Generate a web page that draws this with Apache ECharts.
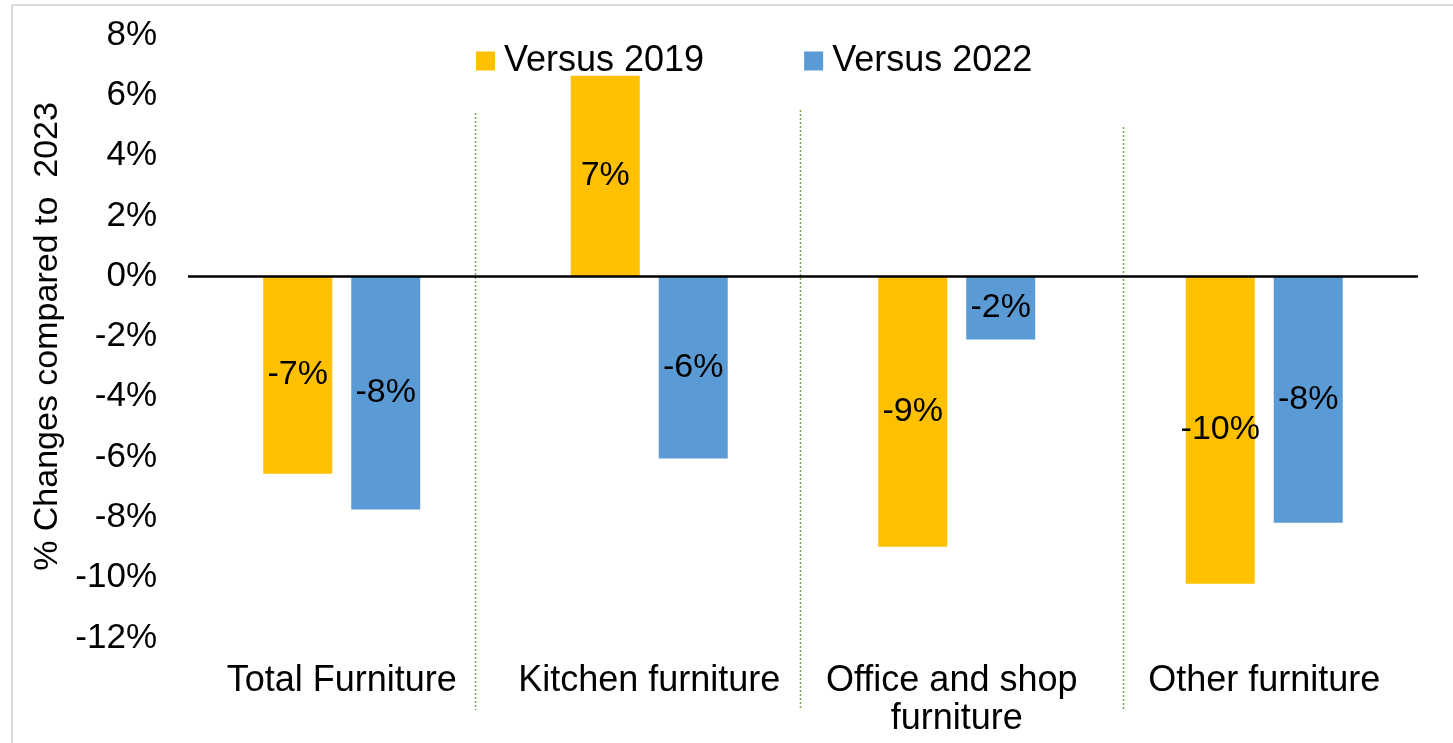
<!DOCTYPE html>
<html>
<head>
<meta charset="utf-8">
<script src="https://cdn.jsdelivr.net/npm/echarts@6/dist/echarts.min.js"></script>
<style>
html,body{margin:0;padding:0;background:#fff;}
#chart{width:1453px;height:743px;}
</style>
</head>
<body>
<div id="chart"></div>
<script>
const categories = ['Total Furniture', 'Kitchen furniture', 'Office and shop furniture', 'Other furniture'];
const seriesNames = ['Versus 2019', 'Versus 2022'];
const versus2019 = [-6.55, 6.65, -8.97, -10.2];
const versus2022 = [-7.74, -6.05, -2.1, -8.18];
const yTicks = { min: -12, max: 8, interval: 2 };
const yAxisTitle = '% Changes compared to  2023';

const FONT = '"Liberation Sans", Arial, sans-serif';
const chart = echarts.init(document.getElementById('chart'));

const labelOpt = {
  show: true,
  position: 'inside',
  color: '#000',
  fontFamily: FONT,
  fontSize: 34,
  formatter: p => Math.round(p.value) + '%'
};

chart.setOption({
  animation: false,
  backgroundColor: '#fff',
  textStyle: { fontFamily: FONT },
  grid: { left: 188, right: 35, top: 35, bottom: 105, containLabel: false },
  legend: {
    data: seriesNames,
    left: 471,
    top: 38,
    itemWidth: 19,
    itemHeight: 19,
    itemGap: 100,
    icon: 'rect',
    textStyle: { fontFamily: FONT, fontSize: 36, color: '#000', padding: [0, 0, 0, 4] }
  },
  xAxis: {
    type: 'category',
    data: categories,
    axisLine: { show: false, onZero: false },
    axisTick: { show: false },
    splitLine: { show: false },
    axisLabel: {
      interval: 0,
      margin: 24,
      color: '#000',
      fontFamily: FONT,
      fontSize: 36,
      lineHeight: 38,
      width: 300,
      overflow: 'break'
    }
  },
  yAxis: {
    type: 'value',
    min: yTicks.min,
    max: yTicks.max,
    interval: yTicks.interval,
    name: yAxisTitle,
    nameLocation: 'middle',
    nameRotate: 90,
    nameGap: 122,
    nameTextStyle: { fontFamily: FONT, fontSize: 34, color: '#000' },
    axisLine: { show: false },
    axisTick: { show: false },
    splitLine: { show: false },
    axisLabel: {
      margin: 31,
      color: '#000',
      fontFamily: FONT,
      fontSize: 35,
      formatter: v => v + '%'
    }
  },
  series: [
    {
      name: seriesNames[0],
      type: 'bar',
      data: versus2019,
      barWidth: 69,
      barGap: '27.5%',
      itemStyle: { color: '#FFC000' },
      label: labelOpt,
      markLine: {
        silent: true,
        symbol: 'none',
        label: { show: false },
        lineStyle: { color: '#000', width: 2.5, type: 'solid' },
        data: [{ yAxis: 0 }]
      }
    },
    {
      name: seriesNames[1],
      type: 'bar',
      data: versus2022,
      barWidth: 69,
      itemStyle: { color: '#5B9BD5' },
      label: labelOpt
    }
  ],
  graphic: [
    { type: 'line', shape: { x1: 12, y1: 5, x2: 1453, y2: 5 }, style: { stroke: '#d9d9d9', lineWidth: 2 }, silent: true },
    { type: 'line', shape: { x1: 12, y1: 5, x2: 12, y2: 743 }, style: { stroke: '#d9d9d9', lineWidth: 2 }, silent: true },
    { type: 'line', shape: { x1: 475.5, y1: 113, x2: 475.5, y2: 710 }, style: { stroke: '#78a552', lineWidth: 1.5, lineDash: [2, 2] }, silent: true },
    { type: 'line', shape: { x1: 800.5, y1: 110, x2: 800.5, y2: 708 }, style: { stroke: '#78a552', lineWidth: 1.5, lineDash: [2, 2] }, silent: true },
    { type: 'line', shape: { x1: 1123.5, y1: 127, x2: 1123.5, y2: 710 }, style: { stroke: '#78a552', lineWidth: 1.5, lineDash: [2, 2] }, silent: true }
  ]
});
</script>
</body>
</html>
